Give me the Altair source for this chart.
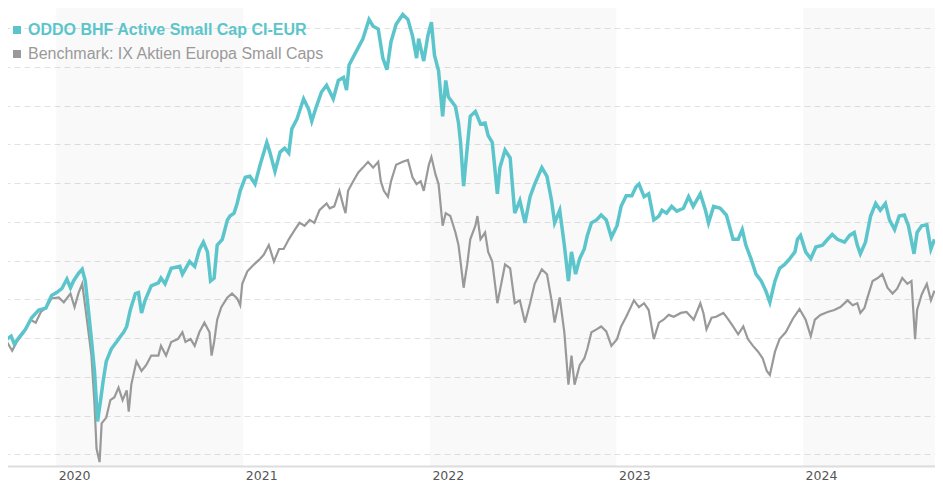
import altair as alt
import pandas as pd

FUND_NAME = "ODDO BHF Active Small Cap CI-EUR"
BENCH_NAME = "Benchmark: IX Aktien Europa Small Caps"
series_names = [FUND_NAME, BENCH_NAME]
series_colors = ["#5bc5cb", "#999999"]

fund_dates = [
    "2019-09-27", "2019-10-05", "2019-10-11", "2019-10-21", "2019-11-02", "2019-11-14", "2019-11-28",
    "2019-12-12", "2019-12-23", "2020-01-02", "2020-01-12", "2020-01-22", "2020-01-29", "2020-02-04",
    "2020-02-14", "2020-02-21", "2020-02-27", "2020-03-04", "2020-03-10", "2020-03-16", "2020-03-22",
    "2020-03-28", "2020-04-02", "2020-04-08", "2020-04-18", "2020-04-28", "2020-05-06", "2020-05-12",
    "2020-05-18", "2020-05-25", "2020-06-04", "2020-06-10", "2020-06-16", "2020-06-23", "2020-07-05",
    "2020-07-19", "2020-07-24", "2020-08-01", "2020-08-13", "2020-08-30", "2020-09-04", "2020-09-18",
    "2020-09-28", "2020-10-07", "2020-10-15", "2020-10-23", "2020-10-29", "2020-11-05", "2020-11-11",
    "2020-11-21", "2020-12-01", "2020-12-06", "2020-12-14", "2020-12-20", "2020-12-26", "2021-01-05",
    "2021-01-14", "2021-01-24", "2021-02-03", "2021-02-16", "2021-02-22", "2021-03-04", "2021-03-14",
    "2021-03-23", "2021-03-31", "2021-04-06", "2021-04-16", "2021-04-29", "2021-05-09", "2021-05-15",
    "2021-05-24", "2021-06-03", "2021-06-13", "2021-06-26", "2021-07-06", "2021-07-16", "2021-07-22",
    "2021-07-27", "2021-08-10", "2021-08-23", "2021-09-04", "2021-09-12", "2021-09-22", "2021-10-01",
    "2021-10-09", "2021-10-17", "2021-10-27", "2021-11-09", "2021-11-19", "2021-11-28", "2021-12-06",
    "2021-12-10", "2021-12-20", "2021-12-28", "2022-01-04", "2022-01-10", "2022-01-18", "2022-01-26",
    "2022-02-01", "2022-02-06", "2022-02-20", "2022-02-26", "2022-03-02", "2022-03-08", "2022-03-15",
    "2022-03-21", "2022-03-31", "2022-04-10", "2022-04-19", "2022-04-25", "2022-05-03", "2022-05-13",
    "2022-05-18", "2022-05-28", "2022-06-07", "2022-06-16", "2022-06-26", "2022-07-06", "2022-07-16",
    "2022-07-25", "2022-08-08", "2022-08-18", "2022-08-27", "2022-09-02", "2022-09-12", "2022-09-21",
    "2022-09-29", "2022-10-05", "2022-10-13", "2022-10-21", "2022-10-30", "2022-11-05", "2022-11-13",
    "2022-11-23", "2022-12-02", "2022-12-12", "2022-12-22", "2023-01-02", "2023-01-10", "2023-01-20",
    "2023-01-31", "2023-02-08", "2023-02-14", "2023-02-24", "2023-03-05", "2023-03-15", "2023-03-25",
    "2023-03-31", "2023-04-09", "2023-04-19", "2023-04-29", "2023-05-12", "2023-05-22", "2023-05-31",
    "2023-06-14", "2023-06-24", "2023-06-30", "2023-07-10", "2023-07-23", "2023-08-04", "2023-08-17",
    "2023-08-27", "2023-09-04", "2023-09-11", "2023-09-21", "2023-10-01", "2023-10-11", "2023-10-20",
    "2023-10-28", "2023-11-07", "2023-11-16", "2023-11-26", "2023-12-06", "2023-12-16", "2023-12-21",
    "2023-12-27", "2024-01-06", "2024-01-16", "2024-01-26", "2024-02-08", "2024-02-18", "2024-02-27",
    "2024-03-08", "2024-03-22", "2024-04-01", "2024-04-10", "2024-04-16", "2024-04-22", "2024-05-02",
    "2024-05-12", "2024-05-22", "2024-05-31", "2024-06-10", "2024-06-18", "2024-06-28", "2024-07-07",
    "2024-07-17", "2024-07-25", "2024-08-05", "2024-08-11", "2024-08-20", "2024-08-30", "2024-09-07",
    "2024-09-14",
]
fund_values = [
    99.75, 100.5, 98.5, 100.25, 102.25, 105.25, 107.25,
    107.75, 111.0, 111.75, 112.75, 115.25, 113.0, 114.75,
    116.75, 117.75, 114.75, 107.25, 99.75, 91.5, 78.5,
    84.0, 89.0, 94.0, 97.25, 99.0, 100.5, 101.5,
    103.0, 107.25, 111.5, 111.75, 106.5, 109.75, 113.5,
    114.25, 115.5, 114.0, 118.0, 118.5, 116.5, 119.75,
    118.5, 122.75, 124.75, 122.25, 114.75, 115.5, 124.0,
    125.5, 130.5, 131.5, 132.25, 134.75, 138.0, 141.5,
    141.75, 139.75, 144.75, 150.5, 148.0, 143.0, 148.0,
    149.0, 147.75, 154.0, 156.5, 161.75, 159.0, 156.0,
    159.75, 163.5, 165.25, 161.75, 166.5, 167.25, 164.0,
    170.5, 174.0, 177.25, 182.25, 180.5, 179.75, 172.25,
    169.25, 176.5, 181.0, 183.5, 182.25, 178.0, 172.25,
    177.25, 171.5, 178.0, 181.5, 173.0, 169.0, 157.25,
    166.5, 162.25, 159.75, 155.5, 150.5, 139.25, 149.0,
    157.25, 158.5, 155.25, 155.5, 152.25, 150.5, 137.25,
    144.0, 148.5, 146.5, 132.25, 135.5, 129.75, 136.5,
    139.75, 144.0, 141.75, 135.5, 129.75, 133.0, 124.0,
    114.75, 122.25, 116.5, 120.5, 123.0, 126.5, 129.75,
    130.5, 131.75, 130.5, 126.0, 129.0, 134.0, 136.75,
    136.75, 139.0, 139.75, 136.5, 137.25, 130.5, 131.5,
    133.0, 132.25, 134.0, 132.75, 133.5, 136.5, 134.0,
    137.25, 133.0, 129.75, 134.0, 133.5, 131.75, 125.5,
    125.5, 128.0, 124.0, 120.5, 116.5, 114.75, 112.25,
    109.25, 114.75, 118.0, 119.0, 120.5, 122.25, 125.5,
    126.5, 122.25, 120.5, 123.5, 124.0, 125.5, 126.75,
    125.5, 124.75, 126.5, 127.25, 124.0, 121.75, 124.75,
    131.5, 134.75, 133.0, 134.75, 130.5, 128.0, 131.5,
    131.75, 129.0, 121.75, 127.25, 129.0, 129.25, 123.0,
    125.5,
]

bench_dates = [
    "2019-09-27", "2019-10-07", "2019-10-17", "2019-10-30", "2019-11-12", "2019-11-22", "2019-12-02",
    "2019-12-12", "2019-12-23", "2020-01-06", "2020-01-16", "2020-01-29", "2020-02-06", "2020-02-14",
    "2020-02-21", "2020-02-27", "2020-03-06", "2020-03-10", "2020-03-16", "2020-03-20", "2020-03-26",
    "2020-03-30", "2020-04-08", "2020-04-16", "2020-04-24", "2020-05-02", "2020-05-10", "2020-05-18",
    "2020-05-22", "2020-05-27", "2020-06-06", "2020-06-16", "2020-06-25", "2020-07-05", "2020-07-19",
    "2020-07-24", "2020-08-03", "2020-08-13", "2020-08-26", "2020-09-04", "2020-09-10", "2020-09-20",
    "2020-09-28", "2020-10-07", "2020-10-17", "2020-10-27", "2020-10-31", "2020-11-05", "2020-11-11",
    "2020-11-19", "2020-12-01", "2020-12-10", "2020-12-20", "2020-12-26", "2020-12-30", "2021-01-09",
    "2021-01-18", "2021-01-28", "2021-02-03", "2021-02-10", "2021-02-20", "2021-03-02", "2021-03-12",
    "2021-03-21", "2021-03-31", "2021-04-12", "2021-04-21", "2021-05-01", "2021-05-11", "2021-05-20",
    "2021-05-30", "2021-06-13", "2021-06-19", "2021-06-28", "2021-07-08", "2021-07-16", "2021-07-20",
    "2021-07-25", "2021-08-04", "2021-08-14", "2021-08-23", "2021-09-02", "2021-09-12", "2021-09-22",
    "2021-09-27", "2021-10-03", "2021-10-11", "2021-10-17", "2021-10-27", "2021-11-09", "2021-11-19",
    "2021-11-28", "2021-12-06", "2021-12-14", "2021-12-20", "2021-12-30", "2022-01-04", "2022-01-12",
    "2022-01-18", "2022-01-26", "2022-02-01", "2022-02-10", "2022-02-20", "2022-02-26", "2022-03-02",
    "2022-03-08", "2022-03-15", "2022-03-21", "2022-03-31", "2022-04-04", "2022-04-10", "2022-04-19",
    "2022-04-25", "2022-05-03", "2022-05-13", "2022-05-18", "2022-05-28", "2022-06-07", "2022-06-16",
    "2022-06-26", "2022-07-06", "2022-07-16", "2022-07-25", "2022-08-08", "2022-08-18", "2022-08-27",
    "2022-09-02", "2022-09-12", "2022-09-21", "2022-09-29", "2022-10-05", "2022-10-11", "2022-10-21",
    "2022-10-30", "2022-11-05", "2022-11-13", "2022-11-23", "2022-12-02", "2022-12-12", "2022-12-22",
    "2023-01-02", "2023-01-10", "2023-01-20", "2023-01-29", "2023-02-04", "2023-02-14", "2023-02-24",
    "2023-03-05", "2023-03-15", "2023-03-25", "2023-04-03", "2023-04-13", "2023-04-23", "2023-05-07",
    "2023-05-18", "2023-06-01", "2023-06-14", "2023-06-20", "2023-06-26", "2023-07-06", "2023-07-15",
    "2023-07-29", "2023-08-08", "2023-08-17", "2023-08-27", "2023-09-06", "2023-09-15", "2023-09-25",
    "2023-10-05", "2023-10-14", "2023-10-22", "2023-10-28", "2023-11-07", "2023-11-16", "2023-11-28",
    "2023-12-12", "2023-12-25", "2024-01-06", "2024-01-16", "2024-01-24", "2024-02-04", "2024-02-18",
    "2024-03-02", "2024-03-14", "2024-03-28", "2024-04-07", "2024-04-16", "2024-04-22", "2024-04-30",
    "2024-05-06", "2024-05-16", "2024-05-26", "2024-06-04", "2024-06-14", "2024-06-24", "2024-07-03",
    "2024-07-13", "2024-07-23", "2024-07-31", "2024-08-07", "2024-08-11", "2024-08-20", "2024-08-30",
    "2024-09-07", "2024-09-14",
]
bench_values = [
    99.0, 96.75, 99.25, 101.5, 104.75, 104.0, 106.75,
    107.75, 110.25, 110.5, 109.25, 111.5, 108.0, 111.75,
    114.0, 108.0, 99.75, 95.5, 83.0, 71.5, 68.0,
    78.0, 79.5, 84.0, 84.75, 87.25, 84.0, 86.5,
    81.0, 88.0, 94.0, 91.5, 93.0, 95.5, 95.5,
    98.0, 95.5, 99.0, 99.75, 101.5, 99.0, 99.75,
    98.0, 101.5, 104.0, 101.5, 95.5, 99.0, 104.75,
    108.0, 110.5, 111.5, 110.25, 108.5, 114.0, 117.25,
    118.5, 119.75, 120.5, 121.5, 124.0, 119.75, 123.0,
    123.0, 125.5, 128.0, 129.75, 129.0, 130.5, 129.75,
    133.0, 134.75, 133.5, 134.0, 138.0, 134.0, 132.25,
    138.0, 140.5, 142.75, 144.0, 145.5, 144.0, 145.5,
    140.5, 138.0, 136.5, 140.5, 144.75, 145.5, 146.0,
    141.5, 139.75, 140.5, 138.0, 144.75, 146.75, 142.25,
    139.75, 129.0, 132.25, 131.5, 127.25, 124.0, 119.75,
    113.0, 119.0, 125.5, 129.0, 131.5, 125.5, 127.25,
    122.25, 119.75, 109.0, 112.25, 119.0, 118.0, 109.0,
    109.75, 104.0, 109.0, 114.0, 117.75, 116.5, 109.75,
    104.0, 110.5, 101.5, 88.0, 95.5, 88.0, 93.0,
    94.75, 97.25, 101.5, 102.25, 103.0, 101.75, 98.0,
    99.75, 103.0, 105.5, 108.0, 109.75, 108.0, 109.0,
    107.25, 99.75, 104.0, 104.75, 106.0, 105.5, 106.5,
    106.75, 104.75, 109.0, 106.5, 102.25, 105.25, 105.5,
    106.5, 104.75, 103.0, 101.0, 103.0, 99.75, 98.0,
    96.5, 94.75, 91.5, 90.5, 96.5, 99.75, 101.5,
    105.0, 107.5, 104.75, 100.5, 104.75, 106.0, 106.75,
    107.25, 108.0, 109.75, 108.5, 109.0, 106.5, 107.75,
    110.5, 114.75, 115.5, 116.5, 113.0, 111.5, 112.75,
    115.5, 114.0, 114.75, 99.75, 107.25, 111.25, 114.0,
    109.75, 112.25,
]

band_years = [2020, 2022, 2024]
tick_years = [2020, 2021, 2022, 2023, 2024]
gridline_values = [70, 80, 90, 100, 110, 120, 130, 140, 150, 160, 170, 180]
y_domain = [67, 187.25]
x_domain = [alt.DateTime(year=2019, month=9, date=21), alt.DateTime(year=2024, month=9, date=15)]

fund_df = pd.DataFrame({"date": fund_dates, "value": fund_values})
bench_df = pd.DataFrame({"date": bench_dates, "value": bench_values})
band_df = pd.DataFrame({
    "start": [f"{y}-01-01" for y in band_years],
    "end": [f"{y + 1}-01-01" for y in band_years],
})
legend_df = pd.DataFrame({
    "series": series_names,
    "date": [fund_dates[0], bench_dates[0]],
    "value": [fund_values[0], bench_values[0]],
})

x_scale = alt.Scale(domain=x_domain, nice=False)
y_scale = alt.Scale(domain=y_domain, nice=False, zero=False)

x_axis = alt.Axis(
    title=None, format="%Y", values=[alt.DateTime(year=y, month=1, date=1) for y in tick_years],
    grid=False, ticks=False, domain=True, domainColor="#dddddd", domainWidth=2,
    labelAlign="left", labelOffset=2, labelPadding=3, labelFont="DejaVu Sans",
    labelFontSize=12.5, labelColor="#555555",
)
y_axis = alt.Axis(
    title=None, values=gridline_values, labels=False, ticks=False, domain=False,
    grid=True, gridColor="#e2e2e2", gridDash=[6, 4], gridWidth=1,
)

bands = alt.Chart(band_df).mark_rect(color="#000000", opacity=0.025, clip=True).encode(
    x=alt.X("start:T", scale=x_scale, axis=x_axis),
    x2="end:T",
)

bench_line = alt.Chart(bench_df).mark_line(color=series_colors[1], strokeWidth=2.2, clip=True).encode(
    x=alt.X("date:T", scale=x_scale, axis=x_axis),
    y=alt.Y("value:Q", scale=y_scale, axis=y_axis),
)

fund_line = alt.Chart(fund_df).mark_line(color=series_colors[0], strokeWidth=3.5, clip=True).encode(
    x=alt.X("date:T", scale=x_scale, axis=x_axis),
    y=alt.Y("value:Q", scale=y_scale, axis=y_axis),
)

label_color_expr = f"datum.label == '{FUND_NAME}' ? '{series_colors[0]}' : '#999999'"
label_weight_expr = f"datum.label == '{FUND_NAME}' ? 'bold' : 'normal'"

legend_layer = alt.Chart(legend_df).mark_square(size=0, opacity=1, filled=True).encode(
    x=alt.X("date:T", scale=x_scale, axis=x_axis),
    y=alt.Y("value:Q", scale=y_scale, axis=y_axis),
    color=alt.Color(
        "series:N",
        scale=alt.Scale(domain=series_names, range=series_colors),
        sort=series_names,
        legend=alt.Legend(
            title=None, orient="none", legendX=5, legendY=22, direction="vertical",
            symbolType="square", symbolSize=64, symbolStrokeWidth=0, symbolOpacity=1,
            labelFont="Liberation Sans", labelFontSize=16, labelOffset=3, labelLimit=0,
            rowPadding=8, padding=0,
            labelColor=alt.ExprRef(label_color_expr),
            labelFontWeight=alt.ExprRef(label_weight_expr),
        ),
    ),
)

chart = alt.layer(bands, bench_line, fund_line, legend_layer).properties(
    width=931, height=466,
    padding={"top": -8, "left": -4, "right": 0, "bottom": 0},
    background="white",
).configure_view(stroke=None)

chart.save("out.html", embed_options={"renderer": "svg", "actions": False})
